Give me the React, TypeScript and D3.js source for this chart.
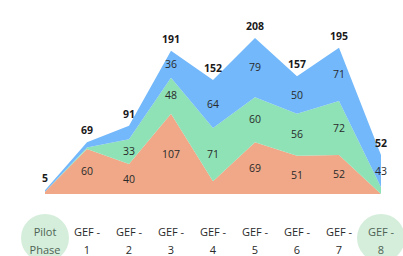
import React from 'react';
import * as d3 from 'd3';

// replenishment periods
const categories = ["Pilot Phase", "GEF - 1", "GEF - 2", "GEF - 3", "GEF - 4", "GEF - 5", "GEF - 6", "GEF - 7", "GEF - 8"];
const tickLines = [["Pilot", "Phase"], ["GEF -", "1"], ["GEF -", "2"], ["GEF -", "3"], ["GEF -", "4"], ["GEF -", "5"], ["GEF -", "6"], ["GEF -", "7"], ["GEF -", "8"]];
const highlighted = ["Pilot Phase", "GEF - 8"];

// stacked series, bottom to top
const orangeVals = [3, 60, 40, 107, 17, 69, 51, 52, 0];
const greenVals = [0, 2, 33, 48, 71, 60, 56, 72, 9];
const blueVals = [2, 7, 18, 36, 64, 79, 50, 71, 43];
const totals = [5, 69, 91, 191, 152, 208, 157, 195, 52];

const seriesKeys = ["orange", "green", "blue"];
const colors: any = {orange: "#f0a888", green: "#8ee2b5", blue: "#72b8fa"};

const font = "'Open Sans', sans-serif";

export default function App() {
    const width = 403, height = 256;

    const rows = categories.map((c, i) => ({
        cat: c,
        orange: orangeVals[i],
        green: greenVals[i],
        blue: blueVals[i],
    }));

    const x = d3.scalePoint().domain(categories).range([45, 381]);
    const y = d3.scaleLinear().domain([0, 208]).range([194, 38]);

    const stacked = d3.stack().keys(seriesKeys)(rows as any);

    const area = d3.area()
        .x((d: any) => x(d.data.cat) as number)
        .y0((d: any) => y(d[0]))
        .y1((d: any) => y(d[1]));

    return (
        <div style={{position: "fixed", left: 0, top: 0}}>
            <svg width={width} height={height} style={{display: "block", background: "#fff"}}>
                {stacked.map((s: any) => (
                    <path key={s.key} d={area(s) as string} fill={colors[s.key]} />
                ))}

                {/* segment labels */}
                {stacked.map((s: any) => s.map((d: any, i: number) => {
                    const v = d[1] - d[0];
                    if (v < 20) return null;
                    return (
                        <text key={s.key + i} x={x(d.data.cat)} y={y((d[0] + d[1]) / 2)} dy="0.35em"
                              textAnchor="middle" fontFamily={font} fontSize={10.5} fill="#2a2a2a">{v}</text>
                    );
                }))}

                {/* totals */}
                {totals.map((t, i) => (
                    <text key={"t" + i} x={x(categories[i])} y={y(t) - 8} textAnchor="middle"
                          fontFamily={font} fontSize={10.5} fontWeight="bold" fill="#1a1a1a">{t}</text>
                ))}

                {/* category axis */}
                {categories.map((c, i) => (
                    <g key={"c" + i} transform={`translate(${x(c)},0)`}>
                        {highlighted.includes(c) &&
                            <circle cx={0} cy={238} r={24} fill="#d5eedb" />}
                        {tickLines[i].map((l, j) => (
                            <text key={j} x={0} y={236 + j * 17.5} textAnchor="middle" fontFamily={font}
                                  fontSize={11} fill={highlighted.includes(c) ? "#4e6354" : "#2a2a2a"}>{l}</text>
                        ))}
                    </g>
                ))}
            </svg>
        </div>
    );
}
